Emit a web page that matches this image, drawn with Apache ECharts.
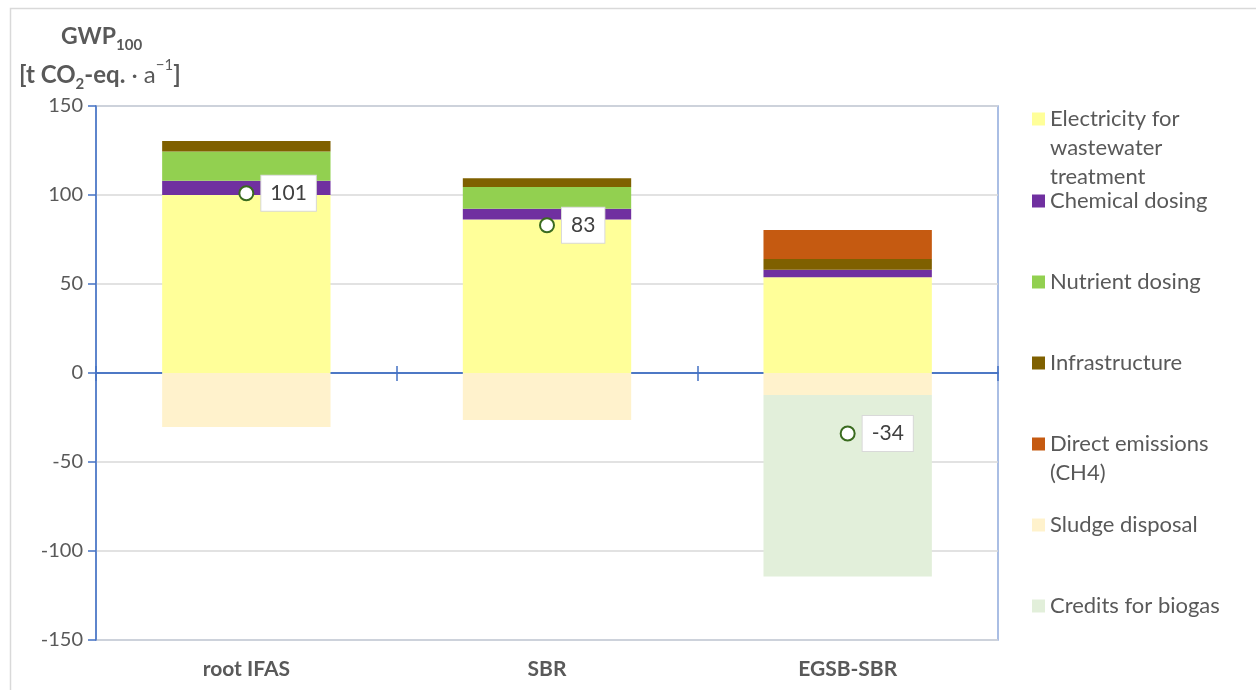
<!DOCTYPE html>
<html>
<head>
<meta charset="utf-8">
<title>GWP100 per treatment option</title>
<script src="https://cdn.jsdelivr.net/npm/echarts@6/dist/echarts.min.js"></script>
<style>
  html, body { margin: 0; padding: 0; background: #ffffff; }
  #chart { width: 1256px; height: 690px; }
</style>
</head>
<body>
<div id="chart"></div>
<script>
// Treatment options on the category axis
const categories = ['root IFAS', 'SBR', 'EGSB-SBR'];

// Contributions to GWP100 in t CO2-eq. per year ('-' = not applicable)
const electricity    = [100, 86.3, 53.8];
const chemicalDosing = [8, 6, 4.2];
const nutrientDosing = [16.5, 12.2, '-'];
const infrastructure = [5.8, 4.9, 6];
const directCH4      = ['-', '-', 16.3];
const sludgeDisposal = [-30.3, -26.4, -12.4];
const biogasCredits  = ['-', '-', -101.9];

// Net result per option
const netTotal = [101, 83, -34];

// Value axis ticks
const yMin = -150, yMax = 150, yStep = 50;

const FONT = 'Lato, "Liberation Sans", sans-serif';
const TEXT = '#595959';

const stackSeries = [
  { name: 'Electricity for wastewater treatment', data: electricity,    color: '#FFFF99' },
  { name: 'Chemical dosing',                      data: chemicalDosing, color: '#7030A0' },
  { name: 'Nutrient dosing',                      data: nutrientDosing, color: '#92D050' },
  { name: 'Infrastructure',                       data: infrastructure, color: '#7F6000' },
  { name: 'Direct emissions (CH4)',               data: directCH4,      color: '#C55A11' },
  { name: 'Sludge disposal',                      data: sludgeDisposal, color: '#FFF2CC' },
  { name: 'Credits for biogas',                   data: biogasCredits,  color: '#E2EFDA' }
];

// Legend entries: text lines and centre y of the first line
const legendLayout = [
  { lines: ['Electricity for', 'wastewater', 'treatment'], y: 119 },
  { lines: ['Chemical dosing'], y: 201 },
  { lines: ['Nutrient dosing'], y: 282 },
  { lines: ['Infrastructure'], y: 363 },
  { lines: ['Direct emissions', '(CH4)'], y: 444 },
  { lines: ['Sludge disposal'], y: 525 },
  { lines: ['Credits for biogas'], y: 606 }
];

const LH = 29;
const LEGEND_FONT = 22;
const LEGEND_LEFT = 1032;

// one legend per entry so each can sit at its own height
const legends = stackSeries.map((s, i) => {
  const l = legendLayout[i];
  return {
    data: [s.name],
    orient: 'vertical',
    left: LEGEND_LEFT,
    top: l.y - LH / 2,
    padding: 0,
    itemWidth: 13,
    itemHeight: 13,
    itemGap: 0,
    selectedMode: false,
    icon: 'rect',
    formatter: () => l.lines[0],
    textStyle: { fontFamily: FONT, fontSize: LEGEND_FONT, color: TEXT, lineHeight: LH }
  };
});

// wrapped continuation lines of the longer legend entries
const legendExtraLines = [];
legendLayout.forEach(l => {
  l.lines.slice(1).forEach((t, k) => {
    legendExtraLines.push({
      type: 'text', silent: true,
      x: LEGEND_LEFT + 18, y: l.y + LH * (k + 1),
      style: { text: t, fontFamily: FONT, fontSize: LEGEND_FONT, fill: TEXT, verticalAlign: 'middle', align: 'left' }
    });
  });
});

const chart = echarts.init(document.getElementById('chart'), null, { renderer: 'canvas' });

const option = {
  animation: false,
  backgroundColor: '#ffffff',
  textStyle: { fontFamily: FONT },
  grid: { left: 96, right: 258, top: 106, bottom: 50, show: true, borderColor: '#8EA9DB', borderWidth: 1.5, containLabel: false },
  legend: legends,
  graphic: [
    {
      type: 'rect', silent: true, z: -10,
      shape: { x: 10.5, y: 8.5, width: 1260, height: 700 },
      style: { fill: 'none', stroke: '#D9D9D9', lineWidth: 1.5 }
    },
    {
      type: 'text', left: 61, top: 25, silent: true,
      style: {
        text: '{b|GWP}{bs|100}',
        rich: {
          b:  { fontFamily: FONT, fontSize: 23, fontWeight: 'bold', fill: TEXT, lineHeight: 32 },
          bs: { fontFamily: FONT, fontSize: 15, fontWeight: 'bold', fill: TEXT, lineHeight: 16, verticalAlign: 'bottom' }
        }
      }
    },
    {
      type: 'text', left: 19, top: 58, silent: true,
      style: {
        text: '{b|[t CO}{bs|2}{b|-eq.}{n| · a}{sup|−1}{b|]}',
        rich: {
          b:   { fontFamily: FONT, fontSize: 24, fontWeight: 'bold', fill: TEXT, lineHeight: 34 },
          bs:  { fontFamily: FONT, fontSize: 15, fontWeight: 'bold', fill: TEXT, lineHeight: 16, verticalAlign: 'bottom' },
          n:   { fontFamily: FONT, fontSize: 24, fill: TEXT, lineHeight: 34 },
          sup: { fontFamily: FONT, fontSize: 15, fill: TEXT, lineHeight: 16, verticalAlign: 'top' }
        }
      }
    }
  ].concat(legendExtraLines),
  xAxis: [
    {
      type: 'category',
      data: categories,
      axisLine: { onZero: true, lineStyle: { color: '#4472C4', width: 1.5 } },
      axisTick: { show: true, length: 8, lineStyle: { color: '#4472C4', width: 1.5 } },
      axisLabel: { interval: 0, margin: 19, fontFamily: FONT, fontSize: 21, fontWeight: 'bold', color: TEXT }
    },
    {
      // second copy of the category axis, pinned to zero, for the upper half of the ticks
      type: 'category',
      position: 'top',
      data: categories,
      axisLine: { show: true, onZero: true, onZeroAxisIndex: 0, lineStyle: { color: '#4472C4', width: 1.5 } },
      axisTick: { show: true, length: 7, lineStyle: { color: '#4472C4', width: 1.5 } },
      axisLabel: { show: false }
    }
  ],
  yAxis: {
    type: 'value',
    min: yMin, max: yMax, interval: yStep,
    axisLine: { show: true, onZero: false, lineStyle: { color: '#4472C4', width: 1.5 } },
    axisTick: { show: true, length: 8, lineStyle: { color: '#4472C4', width: 1.5 } },
    axisLabel: { margin: 13, fontFamily: FONT, fontSize: 20, color: TEXT },
    splitLine: { lineStyle: { color: '#D9D9D9', width: 1.5 } }
  },
  series: stackSeries.map(s => ({
    name: s.name,
    type: 'bar',
    stack: 'gwp',
    barWidth: '56%',
    data: s.data,
    itemStyle: { color: s.color },
    emphasis: { disabled: true }
  })).concat([{
    name: 'Net total',
    type: 'scatter',
    data: netTotal,
    symbol: 'circle',
    symbolSize: 14,
    z: 5,
    itemStyle: { color: '#ffffff', borderColor: '#3A6B1F', borderWidth: 2, opacity: 1 },
    label: {
      show: true,
      position: 'right',
      distance: 7,
      formatter: p => String(p.value),
      fontFamily: FONT,
      fontSize: 21,
      color: '#404040',
      opacity: 1,
      backgroundColor: '#ffffff',
      borderColor: '#D9D9D9',
      borderWidth: 1,
      padding: [8, 9, 6, 9]
    },
    emphasis: { disabled: true }
  }])
};

chart.setOption(option);
</script>
</body>
</html>
